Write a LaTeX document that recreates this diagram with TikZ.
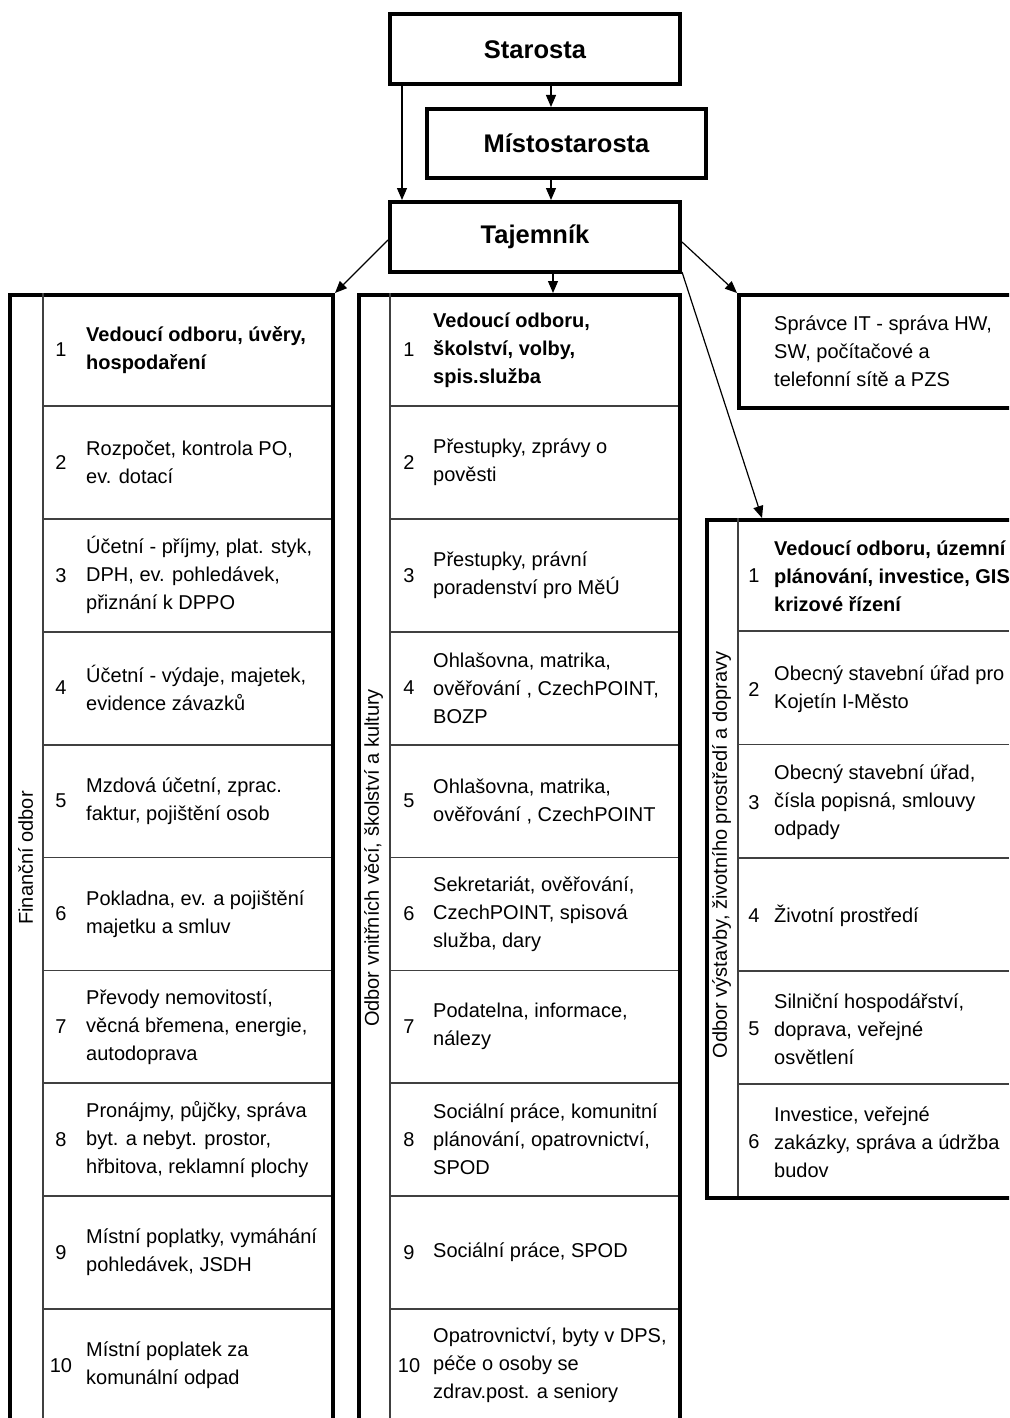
\documentclass[tikz,border=0pt]{standalone}
\usepackage{fontspec}
\setmainfont{Liberation Sans}
\usetikzlibrary{arrows.meta, positioning}

\tikzset{
  vedeni/.style={draw, line width=4pt, inner sep=0pt, minimum height=70pt,
    font=\fontsize{25.5}{28}\selectfont\bfseries},
  sipka/.style={line width=1.2pt, -{Triangle[length=12pt,width=10pt]}},
  odbor/.style={draw, line width=4pt, anchor=north west, inner sep=0pt},
  delic/.style={draw=black!75, line width=1.8pt},
  cislo/.style={font=\fontsize{20}{28}\selectfont, inner sep=0pt},
  popis/.style={font=\fontsize{20}{28}\selectfont, align=left, anchor=west, inner sep=0pt},
  nazev/.style={font=\fontsize{20}{28}\selectfont, rotate=90, inner sep=0pt}
}

\begin{document}
\begin{tikzpicture}[x=1pt,y=-1pt]
\useasboundingbox (0,0) rectangle (1009,1418);
\clip (0,0) rectangle (1009,1418);

% vedeni
\node[vedeni, minimum width=290pt] (star) at (535,49.5) {Starosta};
\node[vedeni, minimum width=279pt, minimum height=69pt] (mist) at (566.5,143.5) {Místostarosta};
\node[vedeni, minimum width=290pt] (taj) at (535,237) {Tajemník};

% odbory
\node[odbor, minimum width=323pt, minimum height=1140pt] (fin) at (8,293) {};
\node[odbor, minimum width=321pt, minimum height=1140pt] (vnitr) at (357,293) {};
\node[odbor, minimum width=300pt, minimum height=113pt] (it) at (737,293) {};
\node[odbor, minimum width=320pt, minimum height=678pt] (vyst) at (705,518) {};

\node[popis] (itt) at (774,351) {Správce IT - správa HW,\\ SW, počítačové a\\ telefonní sítě a PZS};

% svisle cary
\draw[delic] (43,293) -- (43,1418);
\draw[delic] (390,293) -- (390,1418);
\draw[delic] (738,518) -- (738,1196);
\foreach \k in {1,...,9} {
  \draw[delic] (43,293+112.9*\k) -- (331,293+112.9*\k);
  \draw[delic] (390,293+112.9*\k) -- (678,293+112.9*\k);
}
\foreach \k in {1,...,5}
  \draw[delic] (738,518+113.2*\k) -- (1009,518+113.2*\k);

% nazvy odboru
\node[nazev] (finn) at (25.5,858) {Finanční odbor};
\node[nazev] (vnitrn) at (373.5,858) {Odbor vnitřních věcí, školství a kultury};
\node[nazev] (vystn) at (721.5,855) {Odbor výstavby, životního prostředí a dopravy};

% financni odbor
\node[cislo] (f1) at (61,350) {1};
\node[popis, font=\fontsize{20}{28}\selectfont\bfseries] (ft1) at (86,350) {Vedoucí odboru, úvěry,\\ hospodaření};
\foreach \n/\t in {
  2/{Rozpočet, kontrola PO,\\ ev. dotací},
  3/{Účetní - příjmy, plat. styk,\\ DPH, ev. pohledávek,\\ přiznání k DPPO},
  4/{Účetní - výdaje, majetek,\\ evidence závazků},
  5/{Mzdová účetní, zprac.\\ faktur, pojištění osob},
  6/{Pokladna, ev. a pojištění\\ majetku a smluv},
  7/{Převody nemovitostí,\\ věcná břemena, energie,\\ autodoprava},
  8/{Pronájmy, půjčky, správa\\ byt. a nebyt. prostor,\\ hřbitova, reklamní plochy},
  9/{Místní poplatky, vymáhání\\ pohledávek, JSDH},
  10/{Místní poplatek za\\ komunální odpad}} {
  \node[cislo] (f\n) at (61,236.5+112.9*\n) {\n};
  \node[popis] (ft\n) at (86,236.5+112.9*\n) {\t};
}

% odbor vnitrnich veci
\node[cislo] (v1) at (409,350) {1};
\node[popis, font=\fontsize{20}{28}\selectfont\bfseries] (vt1) at (433,350) {Vedoucí odboru,\\ školství, volby,\\ spis.služba};
\foreach \n/\t in {
  2/{Přestupky, zprávy o\\ pověsti},
  3/{Přestupky, právní\\ poradenství pro MěÚ},
  4/{Ohlašovna, matrika,\\ ověřování , CzechPOINT,\\ BOZP},
  5/{Ohlašovna, matrika,\\ ověřování , CzechPOINT},
  6/{Sekretariát, ověřování,\\ CzechPOINT, spisová\\ služba, dary},
  7/{Podatelna, informace,\\ nálezy},
  8/{Sociální práce, komunitní\\ plánování, opatrovnictví,\\ SPOD},
  9/{Sociální práce, SPOD},
  10/{Opatrovnictví, byty v DPS,\\ péče o osoby se\\ zdrav.post. a seniory}} {
  \node[cislo] (v\n) at (409,236.5+112.9*\n) {\n};
  \node[popis] (vt\n) at (433,236.5+112.9*\n) {\t};
}

% odbor vystavby
\node[cislo] (s1) at (754,576) {1};
\node[popis, font=\fontsize{20}{28}\selectfont\bfseries] (st1) at (774,576) {Vedoucí odboru, územní\\ plánování, investice, GIS,\\ krizové řízení};
\foreach \n/\t in {
  2/{Obecný stavební úřad pro\\ Kojetín I-Město},
  3/{Obecný stavební úřad,\\ čísla popisná, smlouvy\\ odpady},
  4/{Životní prostředí},
  5/{Silniční hospodářství,\\ doprava, veřejné\\ osvětlení},
  6/{Investice, veřejné\\ zakázky, správa a údržba\\ budov}} {
  \node[cislo] (s\n) at (754,462.8+113.2*\n) {\n};
  \node[popis] (st\n) at (774,462.8+113.2*\n) {\t};
}

% sipky
\draw[sipka] ([xshift=16pt]star.south) -- ([xshift=16pt]star.south |- mist.north);
\draw[sipka] ([xshift=14pt]star.south west) -- ([xshift=14pt]taj.north west);
\draw[sipka] ([xshift=16pt]taj.north |- mist.south) -- ([xshift=16pt]taj.north);
\draw[sipka] ([xshift=18pt]taj.south) -- ([xshift=18pt]taj.south |- vnitr.north);
\draw[sipka] ([yshift=-3pt]taj.west) -- (fin.north east);
\draw[sipka] ([yshift=-5pt]taj.east) -- (it.north west);
\draw[sipka] ([yshift=2pt]taj.south east) -- ([xshift=57pt]vyst.north west);
\end{tikzpicture}
\end{document}
